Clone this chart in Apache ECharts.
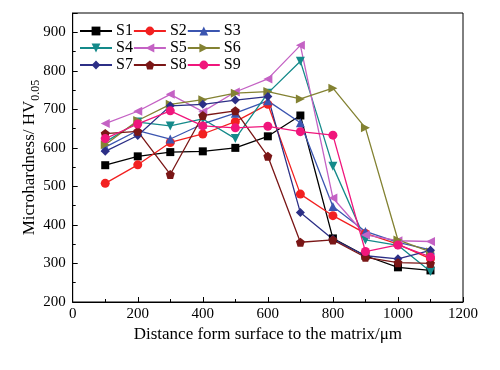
<!DOCTYPE html>
<html>
<head>
<meta charset="utf-8">
<script src="https://cdn.jsdelivr.net/npm/echarts@6/dist/echarts.min.js"></script>
<style>html,body{margin:0;padding:0;background:#fff}#c{width:500px;height:370px}</style>
</head>
<body>
<div id="c"></div>
<script>
var distances = [100, 200, 300, 400, 500, 600, 700, 800, 900, 1000, 1100];
var S1 = [555, 578, 589, 591, 600, 630, 684, 365, 320, 290, 282];
var S2 = [508, 556, 614, 636, 668, 713, 480, 424, 378, 350, 312];
var S3 = [602, 645, 623, 662, 690, 722, 665, 448, 383, 355, 335];
var S4 = [615, 667, 657, 675, 624, 742, 825, 552, 361, 347, 279];
var S5 = [663, 695, 739, 694, 745, 779, 866, 470, 374, 359, 357];
var S6 = [608, 671, 713, 725, 742, 746, 727, 755, 652, 361, 330];
var S7 = [591, 632, 709, 713, 724, 733, 432, 363, 320, 312, 334];
var S8 = [637, 643, 531, 684, 696, 578, 355, 361, 316, 302, 300];
var S9 = [624, 662, 696, 657, 652, 656, 642, 633, 331, 348, 317];
var seriesNames = ['S1','S2','S3','S4','S5','S6','S7','S8','S9'];
var seriesValues = [S1,S2,S3,S4,S5,S6,S7,S8,S9];
var xTicks = [0, 200, 400, 600, 800, 1000, 1200];
var yTicks = [200, 300, 400, 500, 600, 700, 800, 900];

var colors = ['#000000','#f22020','#3b55b0','#148a8a','#c462c4','#838232','#2c2f86','#7a1616','#f0167c'];
var symbols = [
  'rect', 'circle', 'triangle',
  'path://M0,0 L10,0 L5,9 Z',
  'path://M9,0 L9,10 L0,5 Z',
  'path://M0,0 L0,10 L9,5 Z',
  'diamond',
  'path://M5,0 L10,3.6 L8.1,9.5 L1.9,9.5 L0,3.6 Z',
  'circle'
];
var sizes = [8, 9, 9, 9, 9, 9, 9, 9, 9];

var font = '"Liberation Serif", "DejaVu Serif", serif';
var series = seriesNames.map(function (n, i) {
  return {
    name: n, type: 'line',
    data: distances.map(function (d, j) { return [d, seriesValues[i][j]]; }),
    symbol: symbols[i], symbolSize: sizes[i],
    lineStyle: { color: colors[i], width: 1.3 },
    itemStyle: { color: colors[i] },
    showAllSymbol: true, animation: false
  };
});

function legendRow(names, top) {
  return {
    data: names, left: 74, top: top, orient: 'horizontal',
    itemWidth: 32, itemHeight: 11, itemGap: 0,
    textStyle: { fontFamily: font, fontSize: 16, color: '#000', padding: [0, 0, 0, -1] },
    selectedMode: false
  };
}

var chart = echarts.init(document.getElementById('c'), null, { renderer: 'canvas' });
chart.setOption({
  animation: false,
  backgroundColor: '#fff',
  grid: { left: 72.7, right: 37, top: 13, bottom: 68, show: true, borderColor: '#000', borderWidth: 1 },
  legend: [legendRow(['S1','S2','S3'], 18), legendRow(['S4','S5','S6'], 35), legendRow(['S7','S8','S9'], 52)],
  xAxis: {
    type: 'value', min: xTicks[0], max: xTicks[xTicks.length - 1], interval: xTicks[1] - xTicks[0],
    name: 'Distance form surface to the matrix/\u03bcm', nameLocation: 'middle', nameGap: 24,
    nameMoveOverlap: false,
    nameTextStyle: { fontFamily: font, fontSize: 17, color: '#000' },
    axisLine: { lineStyle: { color: '#000', width: 1 } },
    axisTick: { inside: true, length: 5, lineStyle: { color: '#000' } },
    minorTick: { show: true, splitNumber: 2, length: 3, lineStyle: { color: '#000' } },
    axisLabel: { fontFamily: font, fontSize: 15, color: '#000', margin: 5,
      formatter: function (v) { return String(v); } },
    splitLine: { show: false }
  },
  yAxis: {
    type: 'value', min: yTicks[0], max: 950, interval: yTicks[1] - yTicks[0],
    name: '{a|Microhardness/ HV}{b|0.05}', nameLocation: 'middle', nameGap: 35, nameRotate: 90,
    nameMoveOverlap: false,
    nameTextStyle: {
      rich: {
        a: { fontFamily: font, fontSize: 17, color: '#000', lineHeight: 22, verticalAlign: 'bottom' },
        b: { fontFamily: font, fontSize: 12, color: '#000', lineHeight: 22, verticalAlign: 'bottom', padding: [0, 0, -4, 0] }
      }
    },
    axisLine: { lineStyle: { color: '#000', width: 1 } },
    axisTick: { inside: true, length: 5, lineStyle: { color: '#000' } },
    minorTick: { show: true, splitNumber: 2, length: 3, lineStyle: { color: '#000' } },
    axisLabel: { fontFamily: font, fontSize: 15, color: '#000', margin: 7, showMaxLabel: false,
      formatter: function (v) { return v > 900 ? '' : String(v); } },
    splitLine: { show: false }
  },
  series: series
});
</script>
</body>
</html>
